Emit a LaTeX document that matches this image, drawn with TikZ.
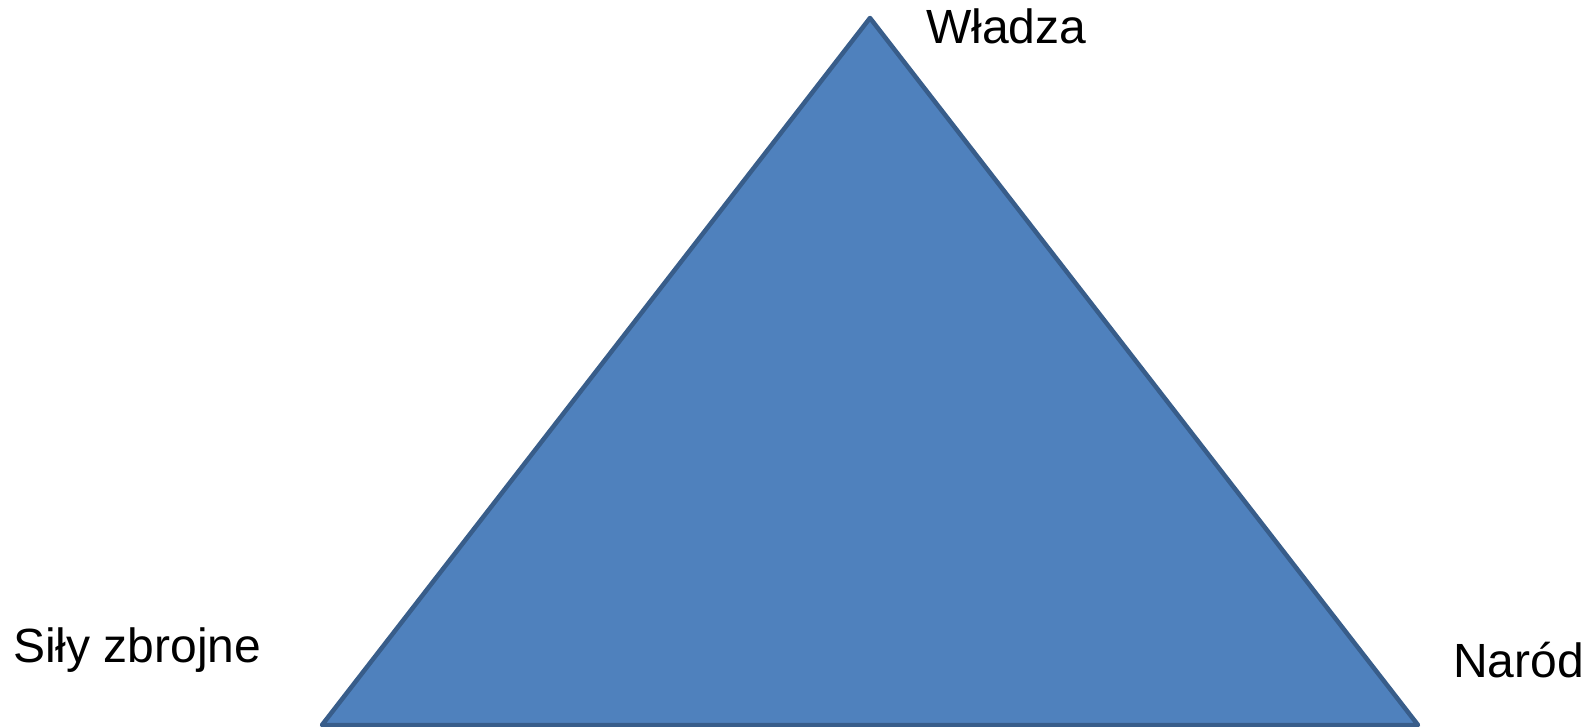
\documentclass[tikz,border=0pt]{standalone}
\usepackage{fontspec}
\setmainfont{Liberation Sans}
\usepackage{xcolor}
\usetikzlibrary{positioning}
\definecolor{trifill}{HTML}{4F81BD}
\definecolor{triline}{HTML}{385D8A}
\tikzset{
  cornerlabel/.style={anchor=base west,inner sep=0pt,font=\fontsize{48}{58}\selectfont},
  tribody/.style={fill=trifill,draw=triline,line width=4.5pt,line join=round},
}
\begin{document}
\begin{tikzpicture}[x=1pt,y=-1pt]
  \useasboundingbox (0,0) rectangle (1585,726);
  \coordinate (cTop) at (870,18);
  \coordinate (cLeft) at (322,725);
  \coordinate (cRight) at (1418,725);
  \begin{scope}
    \clip (0,0) rectangle (1585,726);
    \draw[tribody] (cTop) -- (cRight) -- (cLeft) -- cycle;
  \end{scope}
  \node[cornerlabel] (lWladza) at (926,43) {Władza};
  \node[cornerlabel] (lSily) at (13,662) {Siły zbrojne};
  \node[cornerlabel] (lNarod) at (1453,677) {Naród};
\end{tikzpicture}
\end{document}
